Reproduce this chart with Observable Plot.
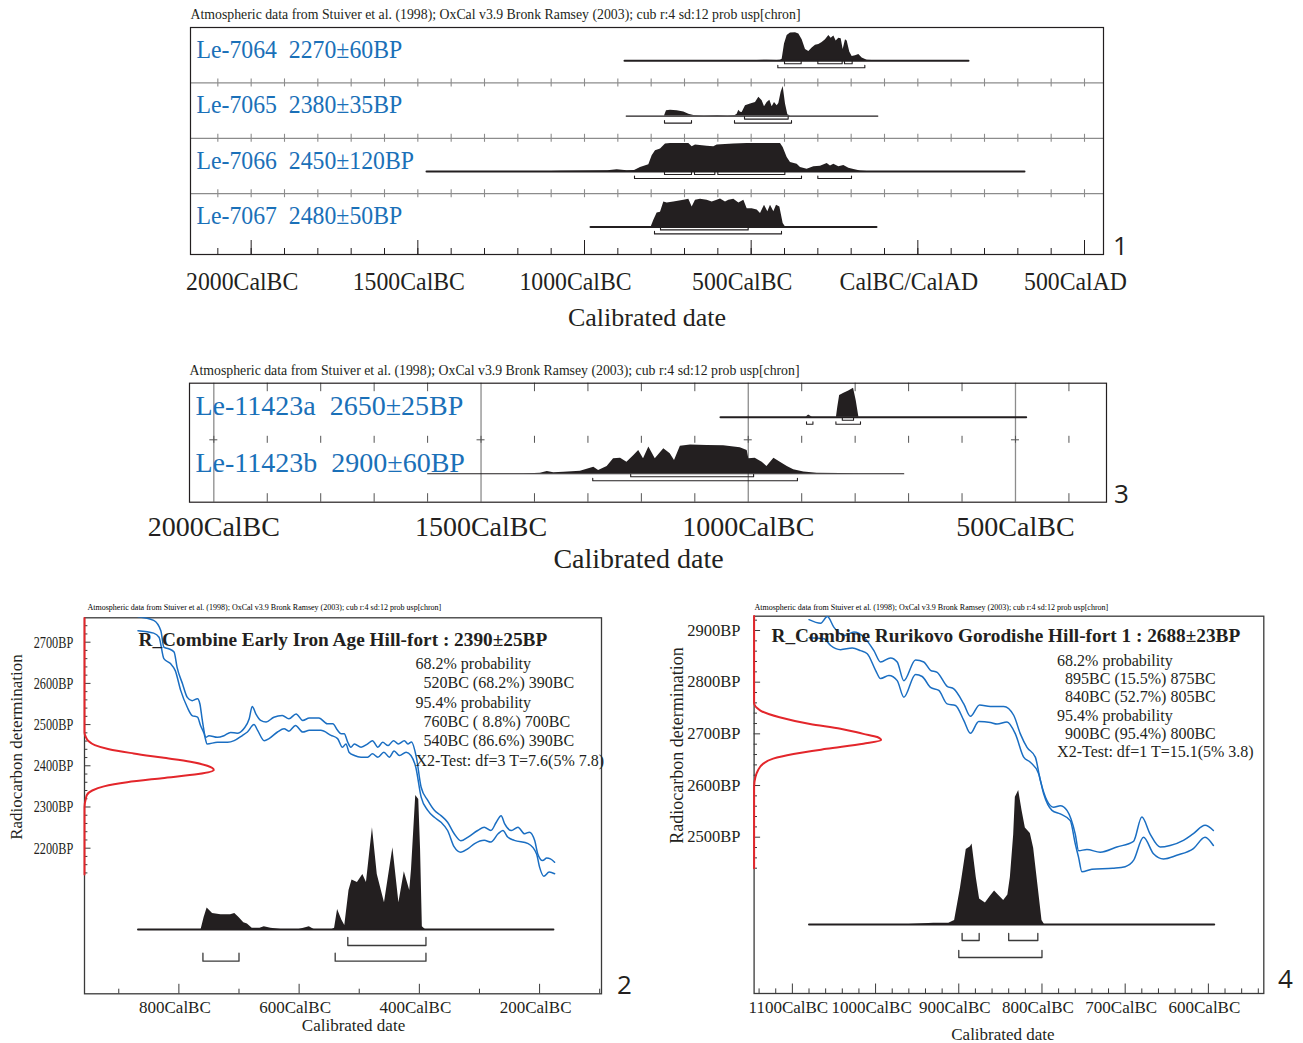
<!DOCTYPE html>
<html><head><meta charset="utf-8">
<script src="https://cdn.jsdelivr.net/npm/d3@7"></script>
<script src="https://cdn.jsdelivr.net/npm/@observablehq/plot@0.6"></script>
<style>
html,body{margin:0;padding:0;background:#fff;}
#chart{position:relative;width:1303px;height:1043px;overflow:hidden;background:#fff;}
#chart svg{position:absolute;left:0;top:0;background:transparent;}
</style></head><body><div id="chart"></div>
<script>
// ---------------- DATA ----------------
const atmText = "Atmospheric data from Stuiver et al. (1998); OxCal v3.9 Bronk Ramsey (2003); cub r:4 sd:12 prob usp[chron]";

// Panel 1: samples (year, relative probability 0-100)
const p1Labels = ["Le-7064  2270±60BP", "Le-7065  2380±35BP", "Le-7066  2450±120BP", "Le-7067  2480±50BP"];
const le7064 = [[-880,0],[-760,0],[-745,1],[-705,1],[-690,0],[-500,0],[-482,1],[-452,2],[-422,1],[-412,2],[-407,5],[-400,60],[-392,90],[-382,99],[-367,100],[-357,95],[-347,75],[-337,40],[-327,33],[-317,45],[-307,55],[-297,58],[-287,65],[-277,75],[-267,90],[-260,80],[-252,88],[-245,70],[-237,80],[-230,78],[-224,40],[-217,75],[-212,70],[-204,30],[-197,15],[-187,18],[-177,22],[-167,10],[-152,2],[-122,0],[152,0]];
const le7065 = [[-875,0],[-760,0],[-754,19],[-742,21],[-722,19],[-702,15],[-687,7],[-672,2],[-640,1],[-600,2],[-570,1],[-548,2],[-542,7],[-537,21],[-532,14],[-527,13],[-517,37],[-502,43],[-487,49],[-477,67],[-467,55],[-460,33],[-452,49],[-444,57],[-437,33],[-430,49],[-422,37],[-417,45],[-410,85],[-404,106],[-397,43],[-390,5],[-382,0],[-120,0]];
const le7066 = [[-1474,0],[-1100,0],[-1072,1],[-930,3],[-902,6],[-872,3],[-850,4],[-832,14],[-807,24],[-797,56],[-787,74],[-772,80],[-757,98],[-742,100],[-687,100],[-677,88],[-667,95],[-632,90],[-612,88],[-602,95],[-552,98],[-512,100],[-412,100],[-404,86],[-392,50],[-382,32],[-362,26],[-352,14],[-332,8],[-312,17],[-292,19],[-272,29],[-262,20],[-252,26],[-237,17],[-222,21],[-207,12],[-192,7],[-172,2],[-152,0],[320,0]];
const le7067 = [[-982,0],[-800,0],[-792,24],[-782,50],[-772,52],[-762,89],[-752,85],[-732,89],[-702,95],[-687,99],[-677,71],[-667,95],[-652,99],[-632,95],[-617,89],[-602,95],[-592,100],[-577,89],[-567,95],[-552,99],[-537,85],[-522,95],[-512,65],[-497,65],[-482,60],[-472,48],[-460,77],[-450,54],[-442,77],[-432,54],[-424,77],[-414,71],[-404,12],[-397,0],[-124,0]];
// ranges: [level (1 = 68.2%, 2 = 95.4%), from, to]
const le7064Ranges = [[1,-400,-350],[1,-300,-227],[1,-220,-197],[2,-420,-159]];
const le7065Ranges = [[1,-520,-389],[2,-760,-679],[2,-550,-379]];
const le7066Ranges = [[1,-760,-679],[1,-670,-609],[1,-600,-399],[2,-850,-349],[2,-300,-199]];
const le7067Ranges = [[1,-772,-509],[2,-790,-409]];
const p1AxisYears = [-2000,-1500,-1000,-500,0,500];
const p1AxisLabels = ["2000CalBC","1500CalBC","1000CalBC","500CalBC","CalBC/CalAD","500CalAD"];

// Panel 3
const p3Labels = ["Le-11423a  2650±25BP", "Le-11423b  2900±60BP"];
const le11423a = [[-1052,0],[-892,0],[-887,8],[-880,0],[-835,0],[-832.5,34],[-829,75],[-821,83],[-812,90],[-803,100],[-798,57],[-793,0],[-480,0]];
const le11423b = [[-1600,0],[-1420,0],[-1400,1],[-1389,2],[-1376,8],[-1364,4],[-1345,5],[-1314,9],[-1289,23],[-1280,11],[-1264,25],[-1252,52],[-1239,54],[-1227,40],[-1214,63],[-1205,80],[-1196,52],[-1186,92],[-1174,52],[-1158,86],[-1146,69],[-1138,46],[-1127,95],[-1108,99],[-1077,98],[-1046,97],[-1015,90],[-1002,80],[-999,52],[-987,54],[-974,40],[-965,25],[-952,54],[-940,40],[-927,25],[-915,14],[-896,6],[-871,2],[-828,1],[-800,0],[-709,0]];
const le11423aRanges = [[1,-824,-803],[2,-891,-879],[2,-836,-790]];
const le11423bRanges = [[1,-1220,-990],[2,-1291,-908]];
const p3AxisYears = [-2000,-1500,-1000,-500];
const p3AxisLabels = ["2000CalBC","1500CalBC","1000CalBC","500CalBC"];

// Panel 2 (Early Iron Age hill-fort)
const p2Title = "R_Combine Early Iron Age Hill-fort : 2390±25BP";
const p2Stats = ["68.2% probability","  520BC (68.2%) 390BC","95.4% probability","  760BC ( 8.8%) 700BC","  540BC (86.6%) 390BC","X2-Test: df=3 T=7.6(5% 7.8)"];
const p2Dist = [[-868,0],[-763,0],[-758,9],[-753,16],[-744,12],[-730,11],[-714,11],[-707,12],[-700,9],[-692,5],[-686,4],[-678,1],[-665,1],[-658,2],[-647,1],[-630,0],[-600,0],[-583,2],[-575,0],[-545,0],[-541,1],[-536,15],[-529,7],[-524,3],[-517,29],[-512,37],[-503,35],[-494,41],[-488,35],[-478,76],[-470,41],[-458,20],[-444,61],[-434,20],[-425,43],[-416,29],[-413,45],[-406,100],[-401,97],[-398,60],[-395,2],[-390,0],[-177,0]];
const p2Ranges = [[1,-519,-389],[2,-760,-700],[2,-540,-389]];
const p2Upper = [[-868,2762],[-842,2753],[-830,2728],[-825,2688],[-817,2684],[-808,2676],[-803,2639],[-794,2599],[-786,2566],[-778,2558],[-769,2563],[-765,2550],[-761,2510],[-755,2469],[-750,2473],[-736,2469],[-725,2473],[-714,2481],[-703,2479],[-692,2490],[-683,2514],[-678,2544],[-672,2526],[-664,2510],[-655,2506],[-642,2518],[-628,2522],[-617,2514],[-605,2526],[-594,2510],[-583,2516],[-567,2516],[-553,2502],[-544,2502],[-536,2486],[-530,2478],[-525,2478],[-519,2457],[-514,2445],[-508,2453],[-497,2445],[-486,2453],[-478,2461],[-469,2445],[-461,2457],[-452,2449],[-443,2461],[-435,2453],[-425,2461],[-419,2453],[-413,2458],[-405,2421],[-397,2348],[-386,2316],[-375,2292],[-364,2279],[-353,2263],[-342,2235],[-331,2218],[-319,2227],[-303,2243],[-292,2251],[-281,2243],[-272,2263],[-264,2279],[-258,2259],[-247,2243],[-236,2251],[-225,2235],[-217,2239],[-208,2218],[-203,2186],[-195,2170],[-188,2176],[-182,2174],[-175,2166]];
const p2Lower = [[-868,2728],[-842,2722],[-833,2712],[-825,2660],[-814,2648],[-806,2631],[-797,2583],[-786,2542],[-778,2522],[-769,2518],[-764,2498],[-758,2478],[-753,2453],[-736,2457],[-719,2457],[-708,2461],[-694,2474],[-686,2482],[-675,2500],[-669,2486],[-658,2461],[-650,2466],[-636,2482],[-625,2490],[-617,2484],[-606,2498],[-594,2482],[-583,2486],[-564,2486],[-547,2474],[-536,2466],[-528,2445],[-522,2453],[-517,2433],[-508,2425],[-497,2421],[-486,2421],[-478,2429],[-469,2421],[-459,2433],[-450,2421],[-442,2436],[-433,2425],[-422,2433],[-414,2425],[-406,2397],[-397,2324],[-386,2292],[-375,2275],[-364,2263],[-353,2243],[-342,2203],[-331,2190],[-319,2199],[-308,2211],[-292,2219],[-281,2215],[-269,2235],[-261,2243],[-253,2227],[-242,2219],[-219,2211],[-205,2186],[-200,2154],[-193,2132],[-184,2142],[-175,2138]];
// red likelihood curve: [BP, relative height]
const p2Red = [[2759,0],[2480,0],[2470,1],[2460,3],[2450,8],[2440,19],[2430,38],[2420,60],[2410,82],[2400,95],[2390,100],[2380,88],[2370,60],[2360,33],[2350,15],[2340,6],[2330,2],[2320,1],[2300,0],[2136,0]];
const p2AxisYears = [-800,-600,-400,-200];
const p2AxisLabels = ["800CalBC","600CalBC","400CalBC","200CalBC"];
const p2BP = [2200,2300,2400,2500,2600,2700];
const p2BPLabels = ["2200BP","2300BP","2400BP","2500BP","2600BP","2700BP"];

// Panel 4 (Rurikovo Gorodishe)
const p4Title = "R_Combine Rurikovo Gorodishe Hill-fort 1 : 2688±23BP";
const p4Stats = ["68.2% probability","  895BC (15.5%) 875BC","  840BC (52.7%) 805BC","95.4% probability","  900BC (95.4%) 800BC","X2-Test: df=1 T=15.1(5% 3.8)"];
const p4Dist = [[-1080,0],[-960,0],[-930,1],[-912,1],[-905,3],[-898,27],[-891,56],[-886,58],[-884,60],[-879,35],[-875,19],[-868,16],[-862,21],[-857,25],[-851,21],[-846,18],[-841,22],[-838,35],[-834,67],[-832,95],[-828,100],[-824,85],[-820,72],[-814,68],[-810,57],[-805,30],[-800,3],[-797,0],[-593,0]];
const p4Ranges = [[1,-896,-875.5],[1,-840,-805],[2,-900,-800]];
const p4Upper = [[-1080,2921],[-1066,2914],[-1058,2927],[-1050,2906],[-1038,2890],[-1026,2897],[-1014,2887],[-1002,2861],[-994,2839],[-982,2847],[-974,2839],[-966,2803],[-952,2843],[-942,2839],[-934,2823],[-926,2819],[-914,2792],[-906,2787],[-894,2758],[-886,2734],[-875,2756],[-862,2753],[-846,2753],[-834,2736],[-826,2700],[-818,2674],[-808,2655],[-802,2610],[-794,2571],[-786,2558],[-778,2561],[-770,2552],[-760,2506],[-756,2474],[-746,2476],[-730,2471],[-710,2481],[-690,2492],[-680,2539],[-670,2506],[-658,2481],[-646,2484],[-630,2494],[-618,2507],[-604,2523],[-594,2513]];
const p4Lower = [[-1080,2886],[-1062,2884],[-1054,2871],[-1042,2863],[-1028,2866],[-1018,2861],[-1010,2855],[-1000,2823],[-994,2807],[-984,2813],[-974,2803],[-966,2771],[-952,2815],[-944,2811],[-934,2790],[-924,2784],[-914,2758],[-904,2755],[-894,2726],[-886,2701],[-876,2724],[-862,2722],[-854,2719],[-842,2723],[-832,2700],[-822,2655],[-814,2645],[-804,2623],[-798,2584],[-788,2552],[-778,2545],[-766,2532],[-760,2487],[-756,2461],[-752,2433],[-740,2438],[-715,2440],[-700,2443],[-690,2455],[-678,2500],[-666,2468],[-654,2458],[-638,2465],[-618,2478],[-604,2500],[-594,2484]];
const p4Red = [[2928,0],[2760,0],[2745,5],[2732,20],[2719,44],[2710,68],[2700,86],[2694,97],[2688,100],[2681,86],[2671,57],[2661,31],[2652,15],[2642,7],[2629,3],[2616,1],[2597,0],[2440,0]];
const p4AxisYears = [-1100,-1000,-900,-800,-700,-600];
const p4AxisLabels = ["1100CalBC","1000CalBC","900CalBC","800CalBC","700CalBC","600CalBC"];
const p4BP = [2500,2600,2700,2800,2900];
const p4BPLabels = ["2500BP","2600BP","2700BP","2800BP","2900BP"];

// ---------------- STYLE / LAYOUT ----------------
const SERIF = "'Liberation Serif','Times New Roman',serif";
const SANS = "'Open Sans','Noto Sans','DejaVu Sans',sans-serif";
const INK = "#231f20", LABEL_BLUE = "#1a70b8", CURVE_BLUE = "#1a6ec2", RED = "#e3262b", GRID = "#8c8c8c", FRAME = "#3a3a3a";
const W = 1303, H = 1043;
const chart = document.getElementById("chart");

function base(F, x, y, marks) {
  return Plot.plot({
    width: W, height: H,
    marginLeft: F.left, marginRight: W - F.right, marginTop: F.top, marginBottom: H - F.bottom,
    x: Object.assign({axis: null}, x), y: Object.assign({axis: null}, y),
    style: {background: "transparent", fontFamily: SERIF, overflow: "visible"},
    marks
  });
}
function add(svg) { chart.appendChild(svg); return svg; }
function bracketPts(ranges, yLine, yTip) {
  const pts = [];
  ranges.forEach(([lv, a, b], j) => {
    const y = yLine(lv), t = yTip(lv);
    pts.push({z: j, x: a, y: t}, {z: j, x: a, y}, {z: j, x: b, y}, {z: j, x: b, y: t});
  });
  return pts;
}
// horizontally condense rendered texts matching a pattern (the original uses a narrow Times)
function condense(svg, re, factor) {
  svg.querySelectorAll("text").forEach(t => {
    if (!re.test(t.textContent)) return;
    const w = t.getComputedTextLength();
    if (w > 0) {
      t.setAttribute("textLength", (w * factor).toFixed(1));
      t.setAttribute("lengthAdjust", "spacingAndGlyphs");
    }
  });
}
const nb = s => s.replace(/^ +/, m => "\u00a0".repeat(m.length));
const lbl = s => s.replace("  ", "\u00a0 ");

// ---------------- ROW PANELS (1 and 3) ----------------
function rowPanel(F, rows, extra) {
  const HU = (F.bottom - F.top) / F.rowPx;
  const Y = (i, px) => i + (F.basePx + px) / F.rowPx;
  const u = px => px / F.rowPx;
  const pxYear = (F.right - F.left) / (F.x1 - F.x0);
  const marks = [...extra(HU, u, pxYear)];
  rows.forEach((r, i) => {
    marks.push(
      Plot.areaY(r.values, {x: d => d[0], y1: () => Y(i, 0), y2: d => Y(i, -d[1] / 100 * F.hPx), fill: INK, curve: "linear"}),
      Plot.line(r.values, {x: d => d[0], y: () => Y(i, 0), stroke: INK, strokeWidth: r.thin ? 1.1 : 2}),
      Plot.line(bracketPts(r.ranges, lv => Y(i, lv === 1 ? F.b1 : F.b2), lv => Y(i, (lv === 1 ? F.b1 : F.b2) - F.bt)),
        {x: "x", y: "y", z: "z", stroke: INK, strokeWidth: 1.1}),
      Plot.text([lbl(r.label)], {text: d => d, y: () => Y(i, F.labelDy), frameAnchor: "left", dx: 6, textAnchor: "start", lineAnchor: "bottom", fill: LABEL_BLUE, fontSize: F.labelSize, fontFamily: SERIF})
    );
  });
  marks.push(
    Plot.frame({stroke: INK, strokeWidth: 1.2}),
    Plot.text([atmText], {text: d => d, frameAnchor: "top-left", dy: F.atmDy, textAnchor: "start", lineAnchor: "bottom", fontSize: 13.8, fill: INK, fontFamily: SERIF}),
    Plot.text(F.axisYears, {x: d => d, text: (d, i) => F.axisLabels[i], frameAnchor: "bottom", dy: F.axisDy, dx: F.axisDx, lineAnchor: "bottom", fontSize: F.axisSize, fill: INK, fontFamily: SERIF}),
    Plot.text(["Calibrated date"], {text: d => d, frameAnchor: "bottom", dy: F.titleDy, dx: F.titleDx, lineAnchor: "bottom", fontSize: F.titleSize, fill: INK, fontFamily: SERIF}),
    Plot.text([F.num], {text: d => d, frameAnchor: "bottom-right", dx: F.numDx, dy: F.numDy, textAnchor: "middle", lineAnchor: "middle", fontSize: 26, fill: INK, fontFamily: SANS})
  );
  return add(base(F, {domain: [F.x0, F.x1]}, {domain: [HU, 0]}, marks));
}

// Panel 1
const F1 = {left: 190, right: 1103, top: 27, bottom: 254, x0: -2182, x1: 557, rowPx: 55.4, basePx: 33.2, hPx: 28,
  b1: 3, b2: 7, bt: 2.5, labelDy: -3, labelSize: 25, atmDy: -9,
  axisYears: p1AxisYears, axisLabels: p1AxisLabels, axisDy: 35, axisDx: -9, axisSize: 25,
  titleDy: 71, titleDx: 0, titleSize: 26, num: "1", numDx: 17, numDy: -8};
const svg1 = rowPanel(F1, [
  {values: le7064, ranges: le7064Ranges, label: p1Labels[0]},
  {values: le7065, ranges: le7065Ranges, label: p1Labels[1], thin: true},
  {values: le7066, ranges: le7066Ranges, label: p1Labels[2]},
  {values: le7067, ranges: le7067Ranges, label: p1Labels[3]}
], (HU, u) => {
  const minor = d3.range(-2100, 501, 100);
  const major = minor.filter(d => d % 500 === 0);
  const cross = [];
  [1, 2, 3].forEach(s => minor.forEach(x => cross.push({x, y1: s - u(4), y2: s + u(4)})));
  return [
    Plot.ruleY([1, 2, 3], {stroke: GRID, strokeWidth: 1.2}),
    Plot.ruleX(cross, {x: "x", y1: "y1", y2: "y2", stroke: GRID, strokeWidth: 1.1}),
    Plot.ruleX(minor, {x: d => d, y1: () => HU, y2: () => HU - u(6), stroke: INK, strokeWidth: 1}),
    Plot.ruleX(major, {x: d => d, y1: () => HU, y2: () => HU - u(14), stroke: INK, strokeWidth: 1})
  ];
});
condense(svg1, /^Le-|CalBC|CalAD/, 0.95);

// Panel 3
const F3 = {left: 189, right: 1106, top: 382.7, bottom: 501.7, x0: -2045.5, x1: -329.7, rowPx: 56.6, basePx: 34, hPx: 29,
  b1: 3, b2: 7, bt: 2.5, labelDy: -2, labelSize: 28, atmDy: -8.7,
  axisYears: p3AxisYears, axisLabels: p3AxisLabels, axisDy: 33.3, axisDx: 0, axisSize: 28,
  titleDy: 65.3, titleDx: -9.5, titleSize: 28, num: "3", numDx: 15, numDy: -7.7};
rowPanel(F3, [
  {values: le11423a, ranges: le11423aRanges, label: p3Labels[0]},
  {values: le11423b, ranges: le11423bRanges, label: p3Labels[1], thin: true}
], (HU, u, pxYear) => {
  const major = [-2000, -1500, -1000, -500];
  const minor = d3.range(-1900, -399, 100).filter(d => d % 500 !== 0);
  const tk = 8.5;
  return [
    Plot.ruleX(major, {x: d => d, stroke: GRID, strokeWidth: 1.3}),
    Plot.ruleX(minor, {x: d => d, y1: () => 0, y2: () => u(tk), stroke: "#555", strokeWidth: 1}),
    Plot.ruleX(minor, {x: d => d, y1: () => HU, y2: () => HU - u(tk), stroke: "#555", strokeWidth: 1}),
    Plot.ruleX(minor.concat(major), {x: d => d, y1: () => 1 - u(3.5), y2: () => 1 + u(3.5), stroke: "#555", strokeWidth: 1}),
    Plot.ruleY(major, {y: () => 1, x1: d => d - 4 / pxYear, x2: d => d + 4 / pxYear, stroke: "#555", strokeWidth: 1})
  ];
});

// ---------------- CALIBRATION PANELS (2 and 4) ----------------
function calPanel(F, D) {
  const pxX = (F.right - F.left) / (F.x1 - F.x0);
  const pxY = (F.bottom - F.top) / (F.bp1 - F.bp0);
  const pxD = (F.bottom - F.top) / (F.d1 - F.d0);
  // distribution
  add(base(F, {domain: [F.x0, F.x1]}, {domain: [F.d0, F.d1]}, [
    Plot.areaY(D.dist, {x: d => d[0], y1: () => 0, y2: d => d[1], fill: INK, curve: "linear"}),
    Plot.line(D.dist, {x: d => d[0], y: () => 0, stroke: INK, strokeWidth: 2}),
    Plot.line(bracketPts(D.ranges, lv => -(lv === 1 ? F.b1 : F.b2) / pxD, lv => -((lv === 1 ? F.b1 : F.b2) - F.bt) / pxD),
      {x: "x", y: "y", z: "z", stroke: FRAME, strokeWidth: 1.3})
  ]));
  // calibration curve, frame, axes, text
  const xMinor = D.xMinor, xMajor = D.axisYears;
  const yMinor = D.yMinor, yMajor = D.bp;
  const svg = add(base(F, {domain: [F.x0, F.x1]}, {domain: [F.bp0, F.bp1]}, [
    Plot.frame({stroke: FRAME, strokeWidth: 1.3}),
    Plot.line(D.upper, {x: d => d[0], y: d => d[1], stroke: CURVE_BLUE, strokeWidth: 1.5, curve: "monotone-x", clip: true}),
    Plot.line(D.lower, {x: d => d[0], y: d => d[1], stroke: CURVE_BLUE, strokeWidth: 1.5, curve: "monotone-x", clip: true}),
    Plot.ruleX(xMinor, {x: d => d, y1: () => F.bp0, y2: () => F.bp0 + 4.6 / pxY, stroke: FRAME}),
    Plot.ruleX(xMajor, {x: d => d, y1: () => F.bp0, y2: () => F.bp0 + 9.5 / pxY, stroke: FRAME}),
    Plot.ruleY(yMinor, {y: d => d, x1: () => F.x0, x2: () => F.x0 + 3.4 / pxX, stroke: FRAME}),
    Plot.ruleY(yMajor, {y: d => d, x1: () => F.x0, x2: () => F.x0 + 6.5 / pxX, stroke: FRAME}),
    Plot.text(yMajor, {y: d => d, text: (d, i) => D.bpLabels[i], frameAnchor: "left", dx: F.ylabDx, textAnchor: "end", lineAnchor: "middle", fontSize: F.ylabSize, fill: INK, fontFamily: SERIF}),
    Plot.text(xMajor, {x: d => d, text: (d, i) => D.axisLabels[i], frameAnchor: "bottom", dx: -4, dy: F.xlabDy, lineAnchor: "bottom", fontSize: 17, fill: INK, fontFamily: SERIF}),
    Plot.text(["Calibrated date"], {text: d => d, frameAnchor: "bottom", dx: F.xtDx, dy: F.xtDy, lineAnchor: "bottom", fontSize: 17, fill: INK, fontFamily: SERIF}),
    Plot.text(["Radiocarbon determination"], {text: d => d, frameAnchor: "left", rotate: -90, dx: F.ytDx, dy: F.ytDy, textAnchor: "middle", lineAnchor: "middle", fontSize: F.ytSize, fill: INK, fontFamily: SERIF}),
    Plot.text([atmText], {text: d => d, frameAnchor: "top-left", dx: F.atmDx, dy: F.atmDy, textAnchor: "start", lineAnchor: "bottom", fontSize: 8, fill: "#000", fontFamily: SERIF}),
    Plot.text([D.title], {text: d => d, frameAnchor: "top-left", dx: F.titleDx, dy: F.titleDy, textAnchor: "start", lineAnchor: "bottom", fontSize: 19.3, fontWeight: "bold", fill: INK, fontFamily: SERIF}),
    Plot.text([D.stats.map(nb).join("\n")], {text: d => d, frameAnchor: "top-left", dx: F.statDx, dy: F.statDy, textAnchor: "start", lineAnchor: "bottom", lineHeight: F.statLH, fontSize: 16, fill: INK, fontFamily: SERIF}),
    Plot.text([F.num], {text: d => d, frameAnchor: "bottom-right", dx: F.numDx, dy: F.numDy, textAnchor: "middle", lineAnchor: "middle", fontSize: 26, fill: INK, fontFamily: SANS})
  ]));
  if (F.ylabScale !== 1) condense(svg, /^\d{4}BP$/, F.ylabScale);
  // red likelihood curve on the radiocarbon axis
  add(base(F, {domain: [0, F.r1]}, {domain: [F.bp0, F.bp1]}, [
    Plot.line(D.red, {x: d => d[1], y: d => d[0], stroke: RED, strokeWidth: 2, curve: "monotone-y"})
  ]));
}

calPanel({left: 84, right: 601, top: 617.3, bottom: 993.3, x0: -957, x1: -97, bp0: 1846.6, bp1: 2759.2, d0: -48, d1: 232.6, r1: 400,
  b1: 16, b2: 31.7, bt: 8, ylabDx: -11.3, ylabSize: 17, ylabScale: 0.72, xlabDy: 18.7, xtDx: 10.5, xtDy: 36.7,
  ytDx: -68, ytDy: -58.8, ytSize: 17, atmDx: 3, atmDy: -7.8, titleDx: 54, titleDy: 27.7, statDx: 331, statDy: 147.7, statLH: 1.206,
  num: "2", numDx: 23, numDy: -8}, {
  dist: p2Dist, ranges: p2Ranges, upper: p2Upper, lower: p2Lower, red: p2Red,
  axisYears: p2AxisYears, axisLabels: p2AxisLabels, xMinor: [-900, -700, -500, -300, -100],
  bp: p2BP, bpLabels: p2BPLabels, yMinor: d3.range(2140, 2741, 20).filter(d => d % 100 !== 0),
  title: p2Title, stats: p2Stats});

calPanel({left: 753.6, right: 1263.3, top: 615.7, bottom: 993, x0: -1146, x1: -533.4, bp0: 2197.5, bp1: 2927.7, d0: -51.5, d1: 230.1, r1: 401.3,
  b1: 16, b2: 33, bt: 7, ylabDx: -13.6, ylabSize: 16.5, ylabScale: 1, xlabDy: 19, xtDx: -6, xtDy: 46,
  ytDx: -76.6, ytDy: -59.4, ytSize: 18, atmDx: 0.4, atmDy: -6.2, titleDx: 17.4, titleDy: 26, statDx: 303, statDy: 141, statLH: 1.144,
  num: "4", numDx: 21.7, numDy: -14}, {
  dist: p4Dist, ranges: p4Ranges, upper: p4Upper, lower: p4Lower, red: p4Red,
  axisYears: p4AxisYears, axisLabels: p4AxisLabels, xMinor: d3.range(-1140, -539, 20).filter(d => d % 100 !== 0),
  bp: p4BP, bpLabels: p4BPLabels, yMinor: d3.range(2440, 2921, 20).filter(d => d % 100 !== 0),
  title: p4Title, stats: p4Stats});
</script></body></html>
